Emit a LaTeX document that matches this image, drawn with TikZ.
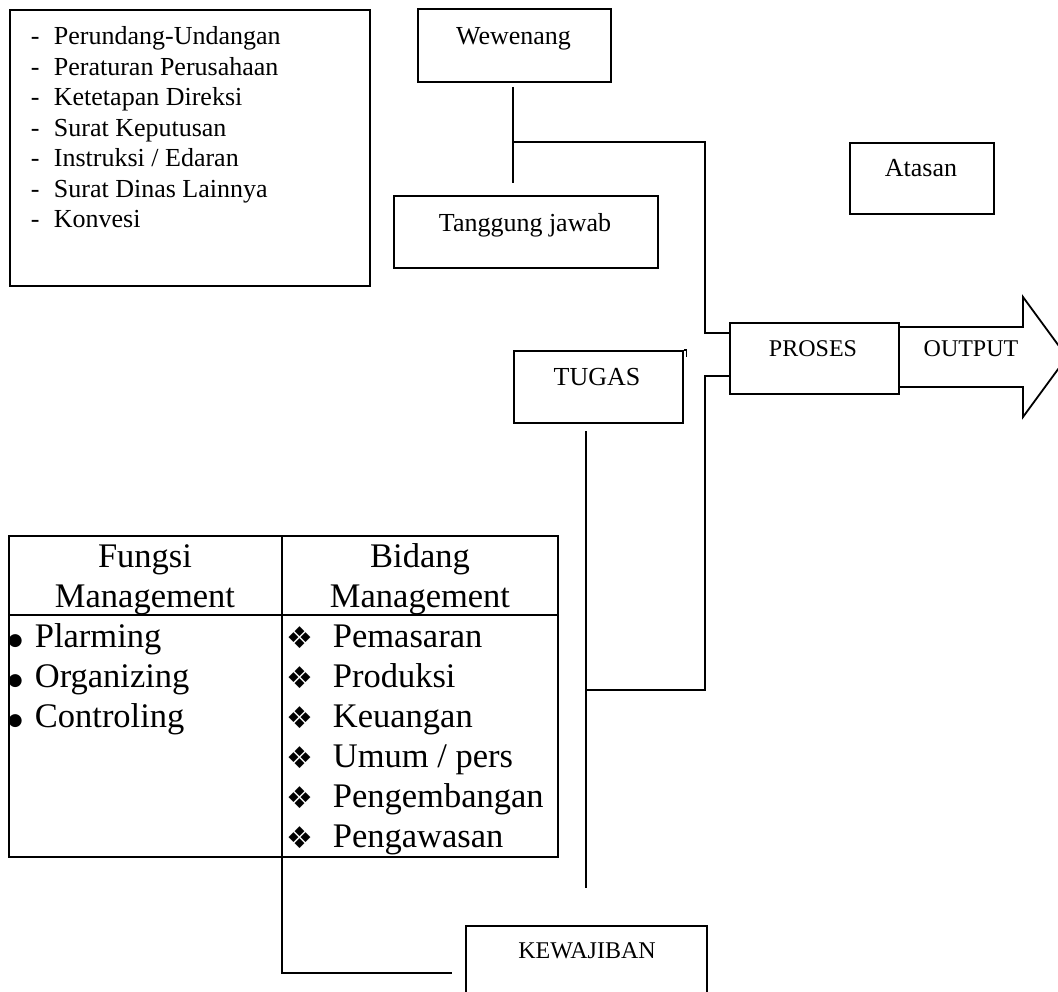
\documentclass[tikz,border=0pt]{standalone}
\usepackage{fontspec}
\setmainfont{Liberation Serif}
\newfontfamily\dejavu{DejaVu Sans}
\usetikzlibrary{calc}
\begin{document}
\begin{tikzpicture}[x=1pt,y=-1pt,line width=1.8pt,
  box/.style={draw,line width=1.8pt,inner sep=0pt,anchor=north west},
  txt/.style={anchor=base,inner sep=0pt,font=\fontsize{26}{30}\selectfont},
  smalltxt/.style={anchor=base,inner sep=0pt,font=\fontsize{24}{28}\selectfont},
  listtxt/.style={anchor=base west,inner sep=0pt,font=\fontsize{26}{30}\selectfont},
  tbltxt/.style={anchor=base,inner sep=0pt,font=\fontsize{34.5}{40}\selectfont},
  itemtxt/.style={anchor=base west,inner sep=0pt,font=\fontsize{34.5}{40}\selectfont},
  bullettxt/.style={anchor=base west,inner sep=0pt,font=\dejavu\fontsize{17}{20}\selectfont},
  diam/.style={anchor=base west,inner sep=0pt,font=\dejavu\fontsize{30}{40}\selectfont},
  conn/.style={draw,line width=1.8pt}]
\useasboundingbox (0,0) rectangle (1058,992);

% list box
\node[box,minimum width=360pt,minimum height=276pt] (list) at (9,9) {};
\foreach \t [count=\i] in {Perundang-Undangan,Peraturan Perusahaan,Ketetapan Direksi,Surat Keputusan,Instruksi / Edaran,Surat Dinas Lainnya,Konvesi}{
  \node[listtxt] (d\i) at (30,{14.5+30.5*\i}) {-};
  \node[listtxt] (l\i) at (53,{14.5+30.5*\i}) {\t};
}

% boxes
\node[box,minimum width=193pt,minimum height=73pt] (wew) at (417,8) {};
\node[txt] (wewt) at (513.5,45) {Wewenang};
\node[box,minimum width=264pt,minimum height=72pt] (tj) at (393,195) {};
\node[txt] (tjt) at (525,232) {Tanggung jawab};
\node[box,minimum width=144pt,minimum height=71pt] (atasan) at (849,142) {};
\node[txt] (atasant) at (921,177) {Atasan};
\node[box,minimum width=169pt,minimum height=71pt] (proses) at (729,322) {};
\node[smalltxt] (prosest) at (813,357) {PROSES};
\node[box,minimum width=169pt,minimum height=72pt] (tugas) at (513,350) {};
\node[txt] (tugast) at (597,385) {TUGAS};
\node[box,minimum width=241pt,minimum height=90pt] (kew) at (465,925) {};
\node[smalltxt] (kewt) at (587,958) {KEWAJIBAN};

% output arrow
\coordinate (a1) at (898,327);
\coordinate (a2) at (898,387);
\draw[line join=miter] (a1) -- (1023,327) -- (1023,297) -- (1067,357) -- (1023,417) -- (1023,387) -- (a2);
\node[smalltxt] (outt) at (971,357) {OUTPUT};

% small tick at TUGAS corner
\draw[line width=1.2pt] (tugas.north east) -- ++(3,0) -- ++(0,7);

% table
\node[box,minimum width=549pt,minimum height=321pt] (tbl) at (8,535) {};
\coordinate (hl) at (8,615);
\coordinate (hr) at (557,615);
\draw (hl) -- (hr);
\coordinate (dt) at (282,535);
\coordinate (db) at (282,856);
\draw (dt) -- (db);
\node[tbltxt] (fh1) at (145,567) {Fungsi};
\node[tbltxt] (fh2) at (145,607) {Management};
\node[tbltxt] (bh1) at (420,567) {Bidang};
\node[tbltxt] (bh2) at (420,607) {Management};
\foreach \t [count=\i] in {Plarming,Organizing,Controling}{
  \node[bullettxt] (fb\i) at (7,{605+40*\i}) {●};
  \node[itemtxt] (fi\i) at (34,{607+40*\i}) {\t};
}
\foreach \t [count=\i] in {Pemasaran,Produksi,Keuangan,Umum / pers,Pengembangan,Pengawasan}{
  \node[diam] (bd\i) at (286,{608+40*\i}) {❖};
  \node[itemtxt] (bi\i) at (332,{607+40*\i}) {\t};
}

% connectors
\coordinate (w1) at (513,87);
\coordinate (w2) at (513,183);
\draw[conn] (w1) -- (w2);
\coordinate (j1) at (513,142);
\coordinate (j2) at (705,142);
\coordinate (j3) at (705,333);
\draw[conn] (j1) -- (j2) -- (j3) -- (j3 -| proses.west);
\coordinate (t1) at (586,431);
\coordinate (t2) at (586,888);
\draw[conn] (t1) -- (t2);
\coordinate (k1) at (586,690);
\coordinate (k2) at (705,690);
\coordinate (k3) at (705,376);
\draw[conn] (k1) -- (k2) -- (k3) -- (k3 -| proses.west);
\coordinate (m2) at (282,973);
\coordinate (m3) at (452,973);
\draw[conn] (db) -- (m2) -- (m3);
\end{tikzpicture}
\end{document}
